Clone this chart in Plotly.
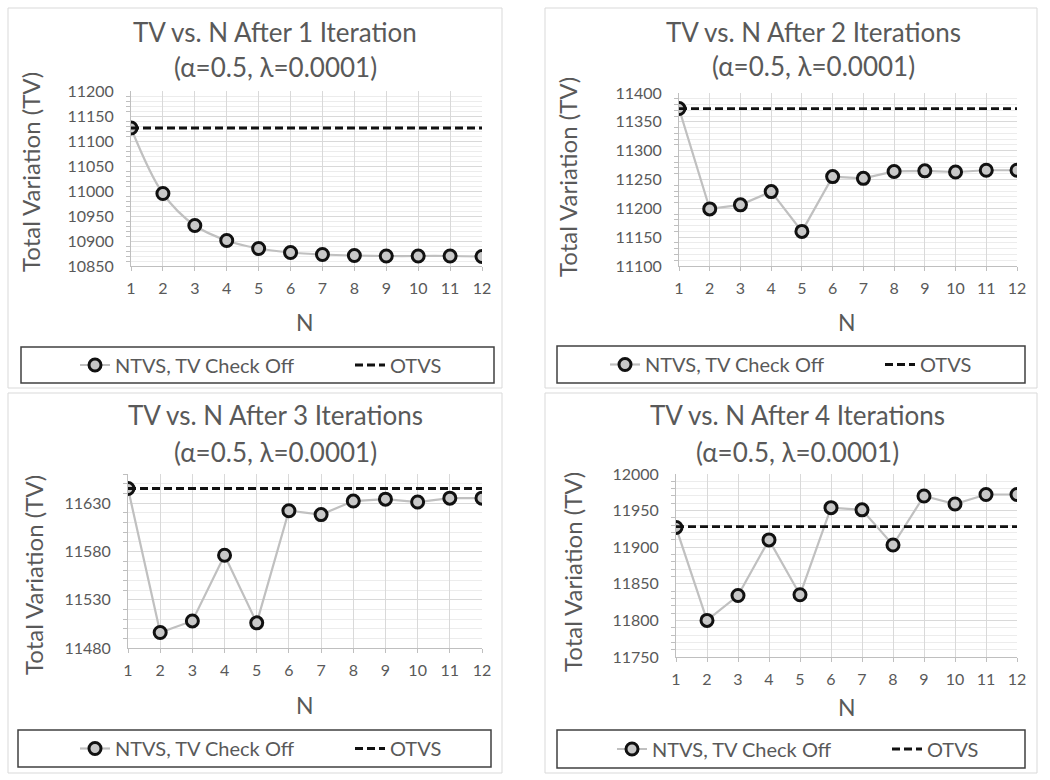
import plotly.graph_objects as go

N = [1, 2, 3, 4, 5, 6, 7, 8, 9, 10, 11, 12]

tv_iter1 = [11126, 10995, 10931, 10901, 10885, 10877, 10873, 10871, 10870, 10870, 10870, 10869]
otvs_iter1 = 11126
tv_iter2 = [11373, 11199, 11206, 11229, 11160, 11255, 11252, 11264, 11265, 11263, 11266, 11266]
otvs_iter2 = 11373
tv_iter3 = [11645, 11496, 11508, 11576, 11506, 11622, 11618, 11632, 11634, 11631, 11635, 11635]
otvs_iter3 = 11645
tv_iter4 = [11927, 11800, 11834, 11910, 11835, 11954, 11951, 11903, 11970, 11959, 11972, 11972]
otvs_iter4 = 11928

titles = ["TV vs. N After 1 Iteration", "TV vs. N After 2 Iterations",
          "TV vs. N After 3 Iterations", "TV vs. N After 4 Iterations"]
subtitle = "(α=0.5, λ=0.0001)"
y_ranges = [[10850, 11200], [11100, 11400], [11480, 11660], [11750, 12000]]
series_name = "NTVS, TV Check Off"
ref_name = "OTVS"

W, H = 1050, 780
FONT = "Lato"
GRAY = "#595959"

def px_x(p):
    return p / W

def px_y(p):
    return 1 - p / H

# panel geometry in pixels
panels = [
    dict(box=(8, 8, 502, 388), plot=(131, 91, 482, 266), title_x=275, t1=32, t2=67,
         ytitle=(30, 172), xtitle=(305, 322), leg=(21, 347, 494, 383), leg_x=75),
    dict(box=(545, 8, 1037, 388), plot=(679, 93, 1017, 266), title_x=813, t1=32, t2=66,
         ytitle=(568, 177), xtitle=(847, 322), leg=(557, 346, 1025, 383), leg_x=605),
    dict(box=(8, 393, 502, 773), plot=(128, 474, 482, 648), title_x=275, t1=415, t2=452,
         ytitle=(33, 575), xtitle=(305, 705), leg=(18, 730, 491, 767), leg_x=75),
    dict(box=(545, 393, 1037, 773), plot=(676, 474, 1017, 657), title_x=797, t1=415, t2=452,
         ytitle=(572, 572), xtitle=(847, 707), leg=(557, 730, 1025, 768), leg_x=612),
]

data = [(tv_iter1, otvs_iter1), (tv_iter2, otvs_iter2), (tv_iter3, otvs_iter3), (tv_iter4, otvs_iter4)]

fig = go.Figure()
shapes = []
annotations = []
layout = {}

for i, (p, (tv, otvs)) in enumerate(zip(panels, data)):
    k = "" if i == 0 else str(i + 1)
    xa, ya = "x" + k, "y" + k
    leg = "legend" + k
    fig.add_trace(go.Scatter(
        x=N, y=tv, xaxis=xa, yaxis=ya, name=series_name, legend=leg,
        mode="lines+markers",
        line=dict(color="#c0c0c0", width=2.2, shape="spline" if i == 0 else "linear"),
        marker=dict(size=12, color="#c8c8c8", line=dict(color="#111111", width=3)),
    ))
    fig.add_trace(go.Scatter(
        x=[N[0], N[-1]], y=[otvs, otvs], xaxis=xa, yaxis=ya, name=ref_name, legend=leg,
        mode="lines", line=dict(color="#111111", width=2.8, dash="8px,4px"),
    ))
    x0, y0, x1, y1 = p["plot"]
    layout["xaxis" + k] = dict(
        domain=[px_x(x0), px_x(x1)], range=[1, 12], anchor=ya, automargin=False,
        tickmode="array", tickvals=N, ticktext=[str(n) for n in N],
        showgrid=True, gridcolor="#d9d9d9", gridwidth=1,
        showline=True, linecolor="#bfbfbf", linewidth=1,
        ticks="outside", ticklen=4, tickcolor="#bfbfbf", ticklabelstandoff=4,
        tickfont=dict(family=FONT, size=16, color=GRAY), zeroline=False,
        fixedrange=True,
    )
    yr = y_ranges[i]
    layout["yaxis" + k] = dict(
        domain=[px_y(y1), px_y(y0)], range=yr, anchor=xa, automargin=False,
        tick0=yr[0], dtick=50, tickformat="d",
        showgrid=True, gridcolor="#d9d9d9", gridwidth=1,
        showline=True, linecolor="#bfbfbf", linewidth=1,
        ticks="", tickfont=dict(family=FONT, size=16, color=GRAY),
        ticklabelstandoff=13, zeroline=False, fixedrange=True,
        minor=dict(dtick=10, tick0=yr[0], ticks="outside", ticklen=4, tickcolor="#bfbfbf",
                   showgrid=True, gridcolor="#ececec", gridwidth=1),
    )
    # panel border
    bx0, by0, bx1, by1 = p["box"]
    shapes.append(dict(type="rect", xref="paper", yref="paper",
                       x0=px_x(bx0), x1=px_x(bx1), y0=px_y(by1), y1=px_y(by0),
                       line=dict(color="#d9d9d9", width=1), layer="below"))
    # legend box
    lx0, ly0, lx1, ly1 = p["leg"]
    shapes.append(dict(type="rect", xref="paper", yref="paper",
                       x0=px_x(lx0), x1=px_x(lx1), y0=px_y(ly1), y1=px_y(ly0),
                       line=dict(color="#404040", width=1.5)))
    layout[leg] = dict(
        orientation="h", xanchor="left", yanchor="middle",
        x=px_x(p["leg_x"]), y=px_y((ly0 + ly1) / 2),
        entrywidth=230, entrywidthmode="pixels",
        font=dict(family=FONT, size=20, color=GRAY), bgcolor="rgba(0,0,0,0)",
        borderwidth=0, itemclick=False, itemdoubleclick=False, tracegroupgap=0,
    )
    # titles
    annotations.append(dict(text=titles[i], x=px_x(p["title_x"]), y=px_y(p["t1"]),
                            xref="paper", yref="paper", showarrow=False,
                            xanchor="center", yanchor="middle",
                            font=dict(family=FONT, size=26, color=GRAY)))
    annotations.append(dict(text=subtitle, x=px_x(p["title_x"]), y=px_y(p["t2"]),
                            xref="paper", yref="paper", showarrow=False,
                            xanchor="center", yanchor="middle",
                            font=dict(family=FONT, size=26, color=GRAY)))
    tx, ty = p["ytitle"]
    annotations.append(dict(text="Total Variation (TV)", x=px_x(tx), y=px_y(ty),
                            xref="paper", yref="paper", showarrow=False, textangle=-90,
                            xanchor="center", yanchor="middle",
                            font=dict(family=FONT, size=24, color=GRAY)))
    nx, ny = p["xtitle"]
    annotations.append(dict(text="N", x=px_x(nx), y=px_y(ny),
                            xref="paper", yref="paper", showarrow=False,
                            xanchor="center", yanchor="middle",
                            font=dict(family=FONT, size=23, color=GRAY)))

fig.update_layout(
    width=W, height=H, margin=dict(l=0, r=0, t=0, b=0, autoexpand=False),
    paper_bgcolor="white", plot_bgcolor="white",
    shapes=shapes, annotations=annotations, **layout,
)

fig.write_html("out.html", config={"displayModeBar": False},
               post_script="document.body.style.margin='0px';")
